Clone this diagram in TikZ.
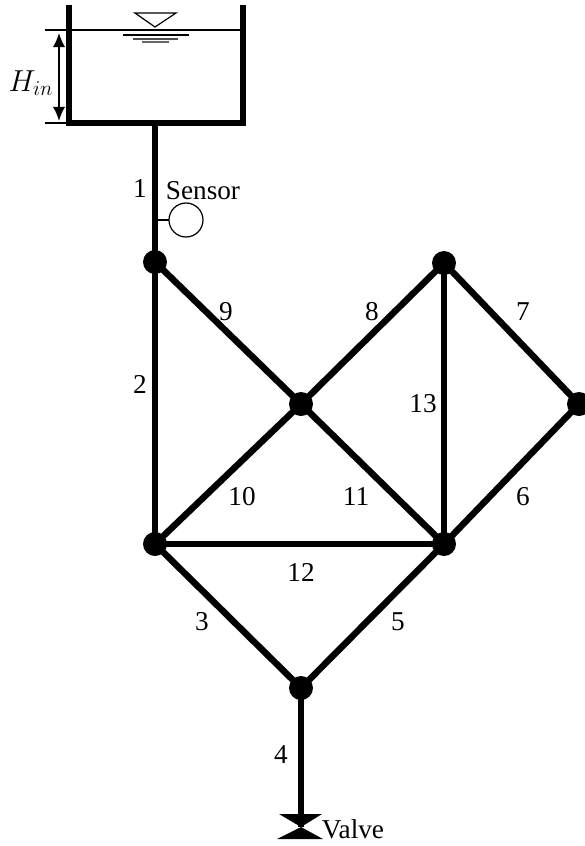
\documentclass[tikz,border=0pt]{standalone}
\usepackage{fontspec}
\setmainfont{Liberation Serif}
\usetikzlibrary{arrows.meta}
\tikzset{
  junction/.style={circle, fill=black, inner sep=0pt, outer sep=0pt, minimum size=0.48cm},
  pipe/.style={line width=3.7pt},
  thinline/.style={line width=0.7pt},
  pipelabel/.style={inner sep=0pt, font=\fontsize{15.5}{17}\selectfont},
}
\begin{document}
\begin{tikzpicture}[x=0.02cm, y=-0.02cm]
  \useasboundingbox (0,0) rectangle (585,846);
  % junctions
  \node[junction] (j1) at (155,262) {};
  \node[junction] (j2) at (155,544) {};
  \node[junction] (j3) at (301,404) {};
  \node[junction] (j4) at (444,263) {};
  \node[junction] (j5) at (444,544) {};
  \node[junction] (j6) at (579,404) {};
  \node[junction] (j7) at (301,688) {};
  % tank
  \coordinate (tl) at (69,5);
  \coordinate (bl) at (69,123);
  \coordinate (br) at (243,123);
  \coordinate (tr) at (243,5);
  \coordinate (outlet) at (155,123);
  \draw[pipe, miter limit=10] (tl) -- (bl) -- (br) -- (tr);
  % water level
  \coordinate (wl) at (45,30);
  \coordinate (wr) at (243,30);
  \coordinate (gl) at (45,123);
  \draw[thinline] (wl) -- (wr);
  \draw[thinline] (gl) -- (bl);
  \coordinate (dimtop) at (59,33);
  \coordinate (dimbot) at (59,121);
  \draw[line width=1.1pt, {Latex[length=8pt,width=7pt]}-{Latex[length=8pt,width=7pt]}] (dimtop) -- (dimbot);
  \node[pipelabel, font=\fontsize{17.5}{19}\selectfont] (hin) at (31,83) {$H_{in}$};
  % level symbol
  \draw[thinline] (135,13) -- (176,13) -- (155,27) -- cycle;
  \draw[thinline] (123,35) -- (189,35);
  \draw[thinline, black!70] (133,39) -- (178,39);
  \draw[thinline, black!60] (142,42) -- (169,42);
  % valve
  \coordinate (valve) at (301,827);
  \fill (279,814) -- (322,814) -- (valve) -- (323,839) -- (277,839) -- (valve) -- cycle;
  % pipes
  \draw[pipe] (outlet) -- (j1.center);
  \draw[pipe] (j1.center) -- (j2.center);
  \draw[pipe] (j2.center) -- (j7.center);
  \draw[pipe] (j7.center) -- (valve);
  \draw[pipe] (j7.center) -- (j5.center);
  \draw[pipe] (j5.center) -- (j6.center);
  \draw[pipe] (j6.center) -- (j4.center);
  \draw[pipe] (j4.center) -- (j3.center);
  \draw[pipe] (j1.center) -- (j3.center);
  \draw[pipe] (j3.center) -- (j2.center);
  \draw[pipe] (j3.center) -- (j5.center);
  \draw[pipe] (j2.center) -- (j5.center);
  \draw[pipe] (j4.center) -- (j5.center);
  % sensor
  \node[draw, circle, thinline, inner sep=0pt, outer sep=0pt, minimum size=0.68cm] (sensor) at (186,220) {};
  \coordinate (tap) at (155,220);
  \draw[thinline] (tap) -- (sensor);
  \node[pipelabel] (sensorlabel) at (203,191) {Sensor};
  \node[pipelabel] (valvelabel) at (353,829) {Valve};
  % pipe numbers
  \node[pipelabel] (p1) at (140,189) {1};
  \node[pipelabel] (p2) at (140,384) {2};
  \node[pipelabel] (p3) at (202,622) {3};
  \node[pipelabel] (p4) at (281,755) {4};
  \node[pipelabel] (p5) at (398,622) {5};
  \node[pipelabel] (p6) at (523,497) {6};
  \node[pipelabel] (p7) at (523,312) {7};
  \node[pipelabel] (p8) at (372,312) {8};
  \node[pipelabel] (p9) at (226,312) {9};
  \node[pipelabel] (p10) at (242,497) {10};
  \node[pipelabel] (p11) at (356,497) {11};
  \node[pipelabel] (p12) at (301,572) {12};
  \node[pipelabel] (p13) at (423,404) {13};
\end{tikzpicture}
\end{document}
